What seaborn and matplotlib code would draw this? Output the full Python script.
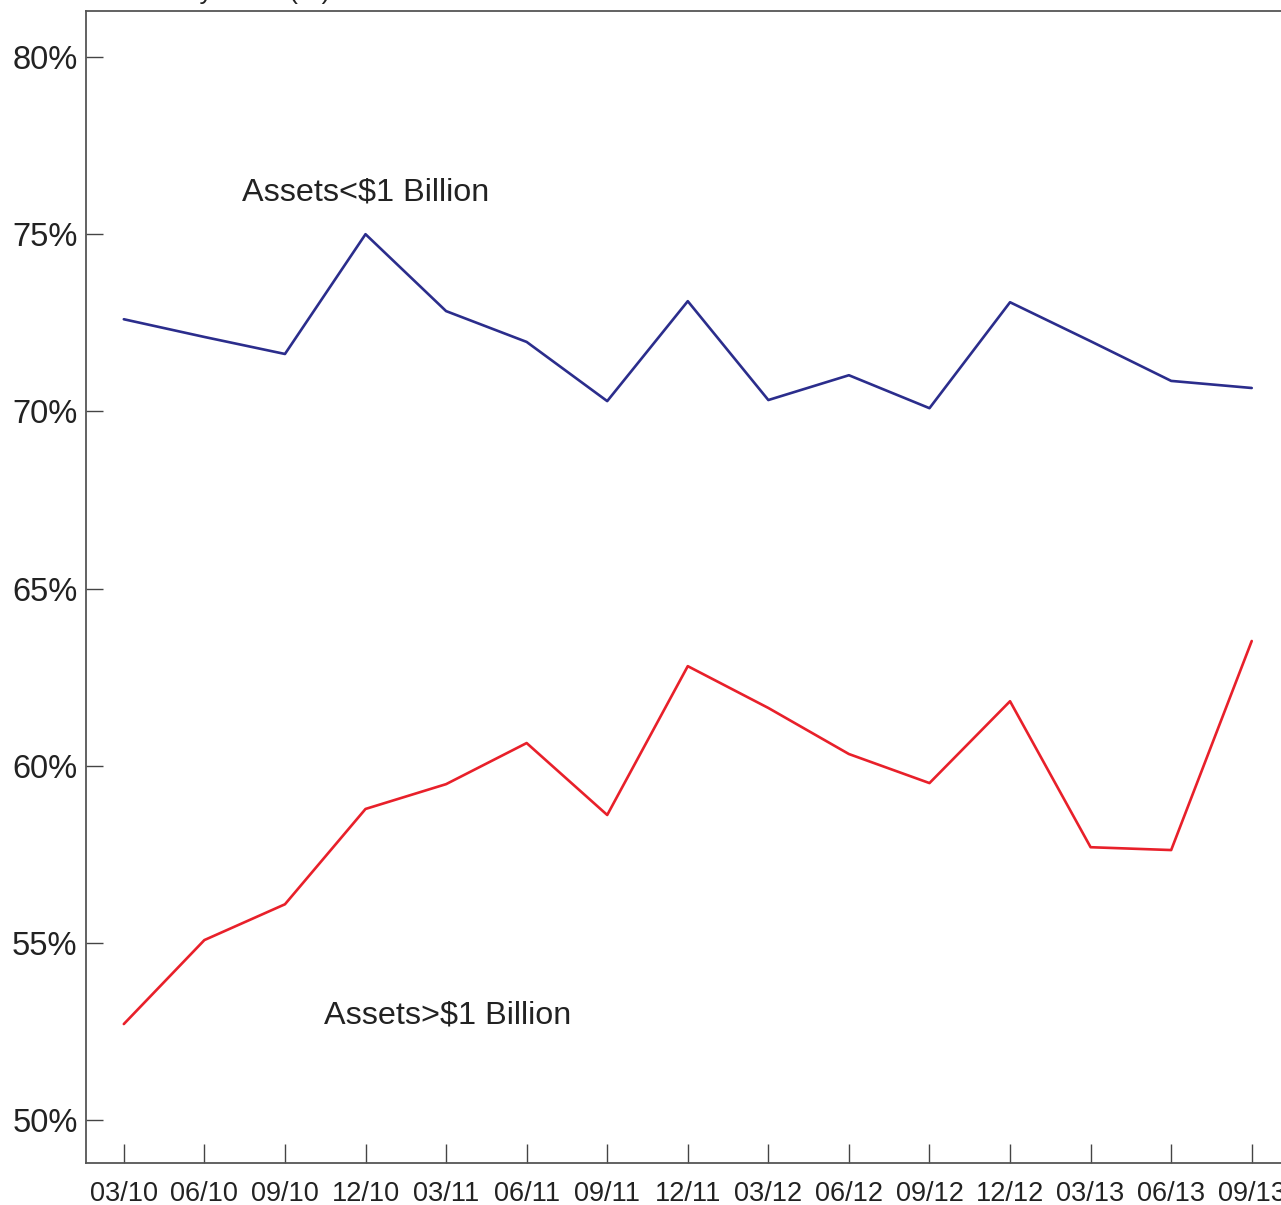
import pandas as pd
import seaborn as sns
import matplotlib.pyplot as plt

quarters = ["03/10", "06/10", "09/10", "12/10", "03/11", "06/11", "09/11", "12/11",
            "03/12", "06/12", "09/12", "12/12", "03/13", "06/13", "09/13"]
small_banks = [72.60, 72.10, 71.62, 75.00, 72.83, 71.96, 70.29, 73.11,
               70.32, 71.02, 70.09, 73.08, 71.98, 70.86, 70.66]
large_banks = [52.71, 55.08, 56.09, 58.78, 59.48, 60.64, 58.61, 62.81,
               61.63, 60.33, 59.51, 61.82, 57.70, 57.62, 63.52]
y_ticks = [50, 55, 60, 65, 70, 75, 80]

df = pd.DataFrame({
    "idx": list(range(len(quarters))) * 2,
    "value": small_banks + large_banks,
    "group": ["Assets<$1 Billion"] * len(quarters) + ["Assets>$1 Billion"] * len(quarters),
})

sns.set_style("white")
plt.rcParams["font.family"] = ["Liberation Sans", "DejaVu Sans"]

fig = plt.figure(figsize=(12.81, 12.05), dpi=100)
ax = fig.add_axes([0.0671, 0.0349, 0.9415, 0.956])

sns.lineplot(data=df, x="idx", y="value", hue="group",
             palette={"Assets<$1 Billion": "#2b2d8c", "Assets>$1 Billion": "#e8202a"},
             linewidth=1.9, legend=False, ax=ax)

ax.set_xlim(-0.47, 14.5)
ax.set_ylim(48.79, 81.3)
ax.set_xticks(range(len(quarters)))
ax.set_xticklabels(quarters, fontsize=19.5)
ax.set_yticks(y_ticks)
ax.set_yticklabels([f"{v}%" for v in y_ticks], fontsize=23.5)
ax.set_xlabel("")
ax.set_ylabel("")
ax.tick_params(axis="x", direction="in", length=14, width=1, color="#444444", pad=13, labelcolor="#222222")
ax.tick_params(axis="y", direction="in", length=12, width=1, color="#444444", pad=6, labelcolor="#222222")
ax.tick_params(bottom=True, left=True)

for side in ["left", "bottom", "top"]:
    ax.spines[side].set_color("#555555")
    ax.spines[side].set_linewidth(1.3)
ax.spines["right"].set_visible(False)

ax.text(1.47, 76.19, "Assets<$1 Billion", fontsize=23.3, color="#222222", va="center")
ax.text(2.49, 52.96, "Assets>$1 Billion", fontsize=23.3, color="#222222", va="center")

# title is cut off at the top edge in the original, only descenders show
fig.text(0.078, 1.0005, "Efficiency Ratio (%)", fontsize=19, color="#222222", va="baseline")

plt.savefig("out.png", dpi=100)
